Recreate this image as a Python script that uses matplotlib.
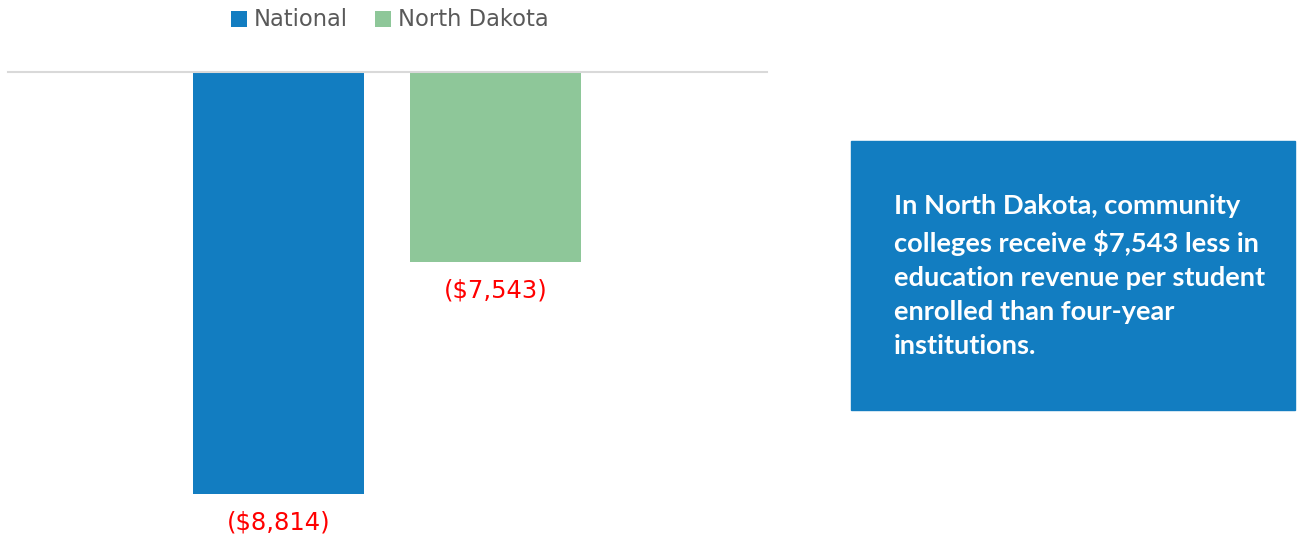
import matplotlib.pyplot as plt
from matplotlib.patches import Rectangle

# data for the chart
series = ["National", "North Dakota"]
values = [-8814, -7543]
labels = ["($8,814)", "($7,543)"]
colors = ["#127dc1", "#8ec799"]
note = ("In North Dakota, community\n"
        "colleges receive $7,543 less in\n"
        "education revenue per student\n"
        "enrolled than four-year\n"
        "institutions.")

W, H = 1303, 538
fig = plt.figure(figsize=(W / 100, H / 100), dpi=100)

# plot area placed in pixel terms
ax = fig.add_axes([8 / W, 10 / H, 759 / W, 456 / H])
x_pos = [0, 1]
bars = ax.bar(x_pos, values, width=0.79, color=colors, label=series)
ax.set_ylim(-9000, -6500)
ax.set_xlim(-1.2465, 2.251)

for spine in ["left", "right", "bottom"]:
    ax.spines[spine].set_visible(False)
ax.spines["top"].set_color("#d9d9d9")
ax.spines["top"].set_linewidth(1.5)
ax.set_xticks([])
ax.set_yticks([])

# data labels under each bar
for xp, v, lab in zip(x_pos, values, labels):
    ax.annotate(lab, (xp, v), xytext=(0, -20.5), textcoords="offset points",
                ha="center", va="center", color="#ff0000", fontsize=17.5,
                family="DejaVu Sans", annotation_clip=False)

fig.legend(handles=bars, labels=series, loc="center",
           bbox_to_anchor=(390 / W, 1 - 20 / H), ncol=2, frameon=False,
           fontsize=16.3, handlelength=0.7, handleheight=0.7,
           handletextpad=0.3, columnspacing=1.2, labelcolor="#595959")

# call-out box on the right
fig.patches.append(Rectangle((851 / W, 1 - 410 / H), 444 / W, 269 / H,
                             transform=fig.transFigure, color="#127dc1",
                             zorder=0))
fig.text(894 / W, 1 - 276 / H, note, ha="left", va="center", color="white",
         fontsize=19.6, fontweight="bold", family="Lato", linespacing=1.5)

fig.savefig("out.png", dpi=100)
